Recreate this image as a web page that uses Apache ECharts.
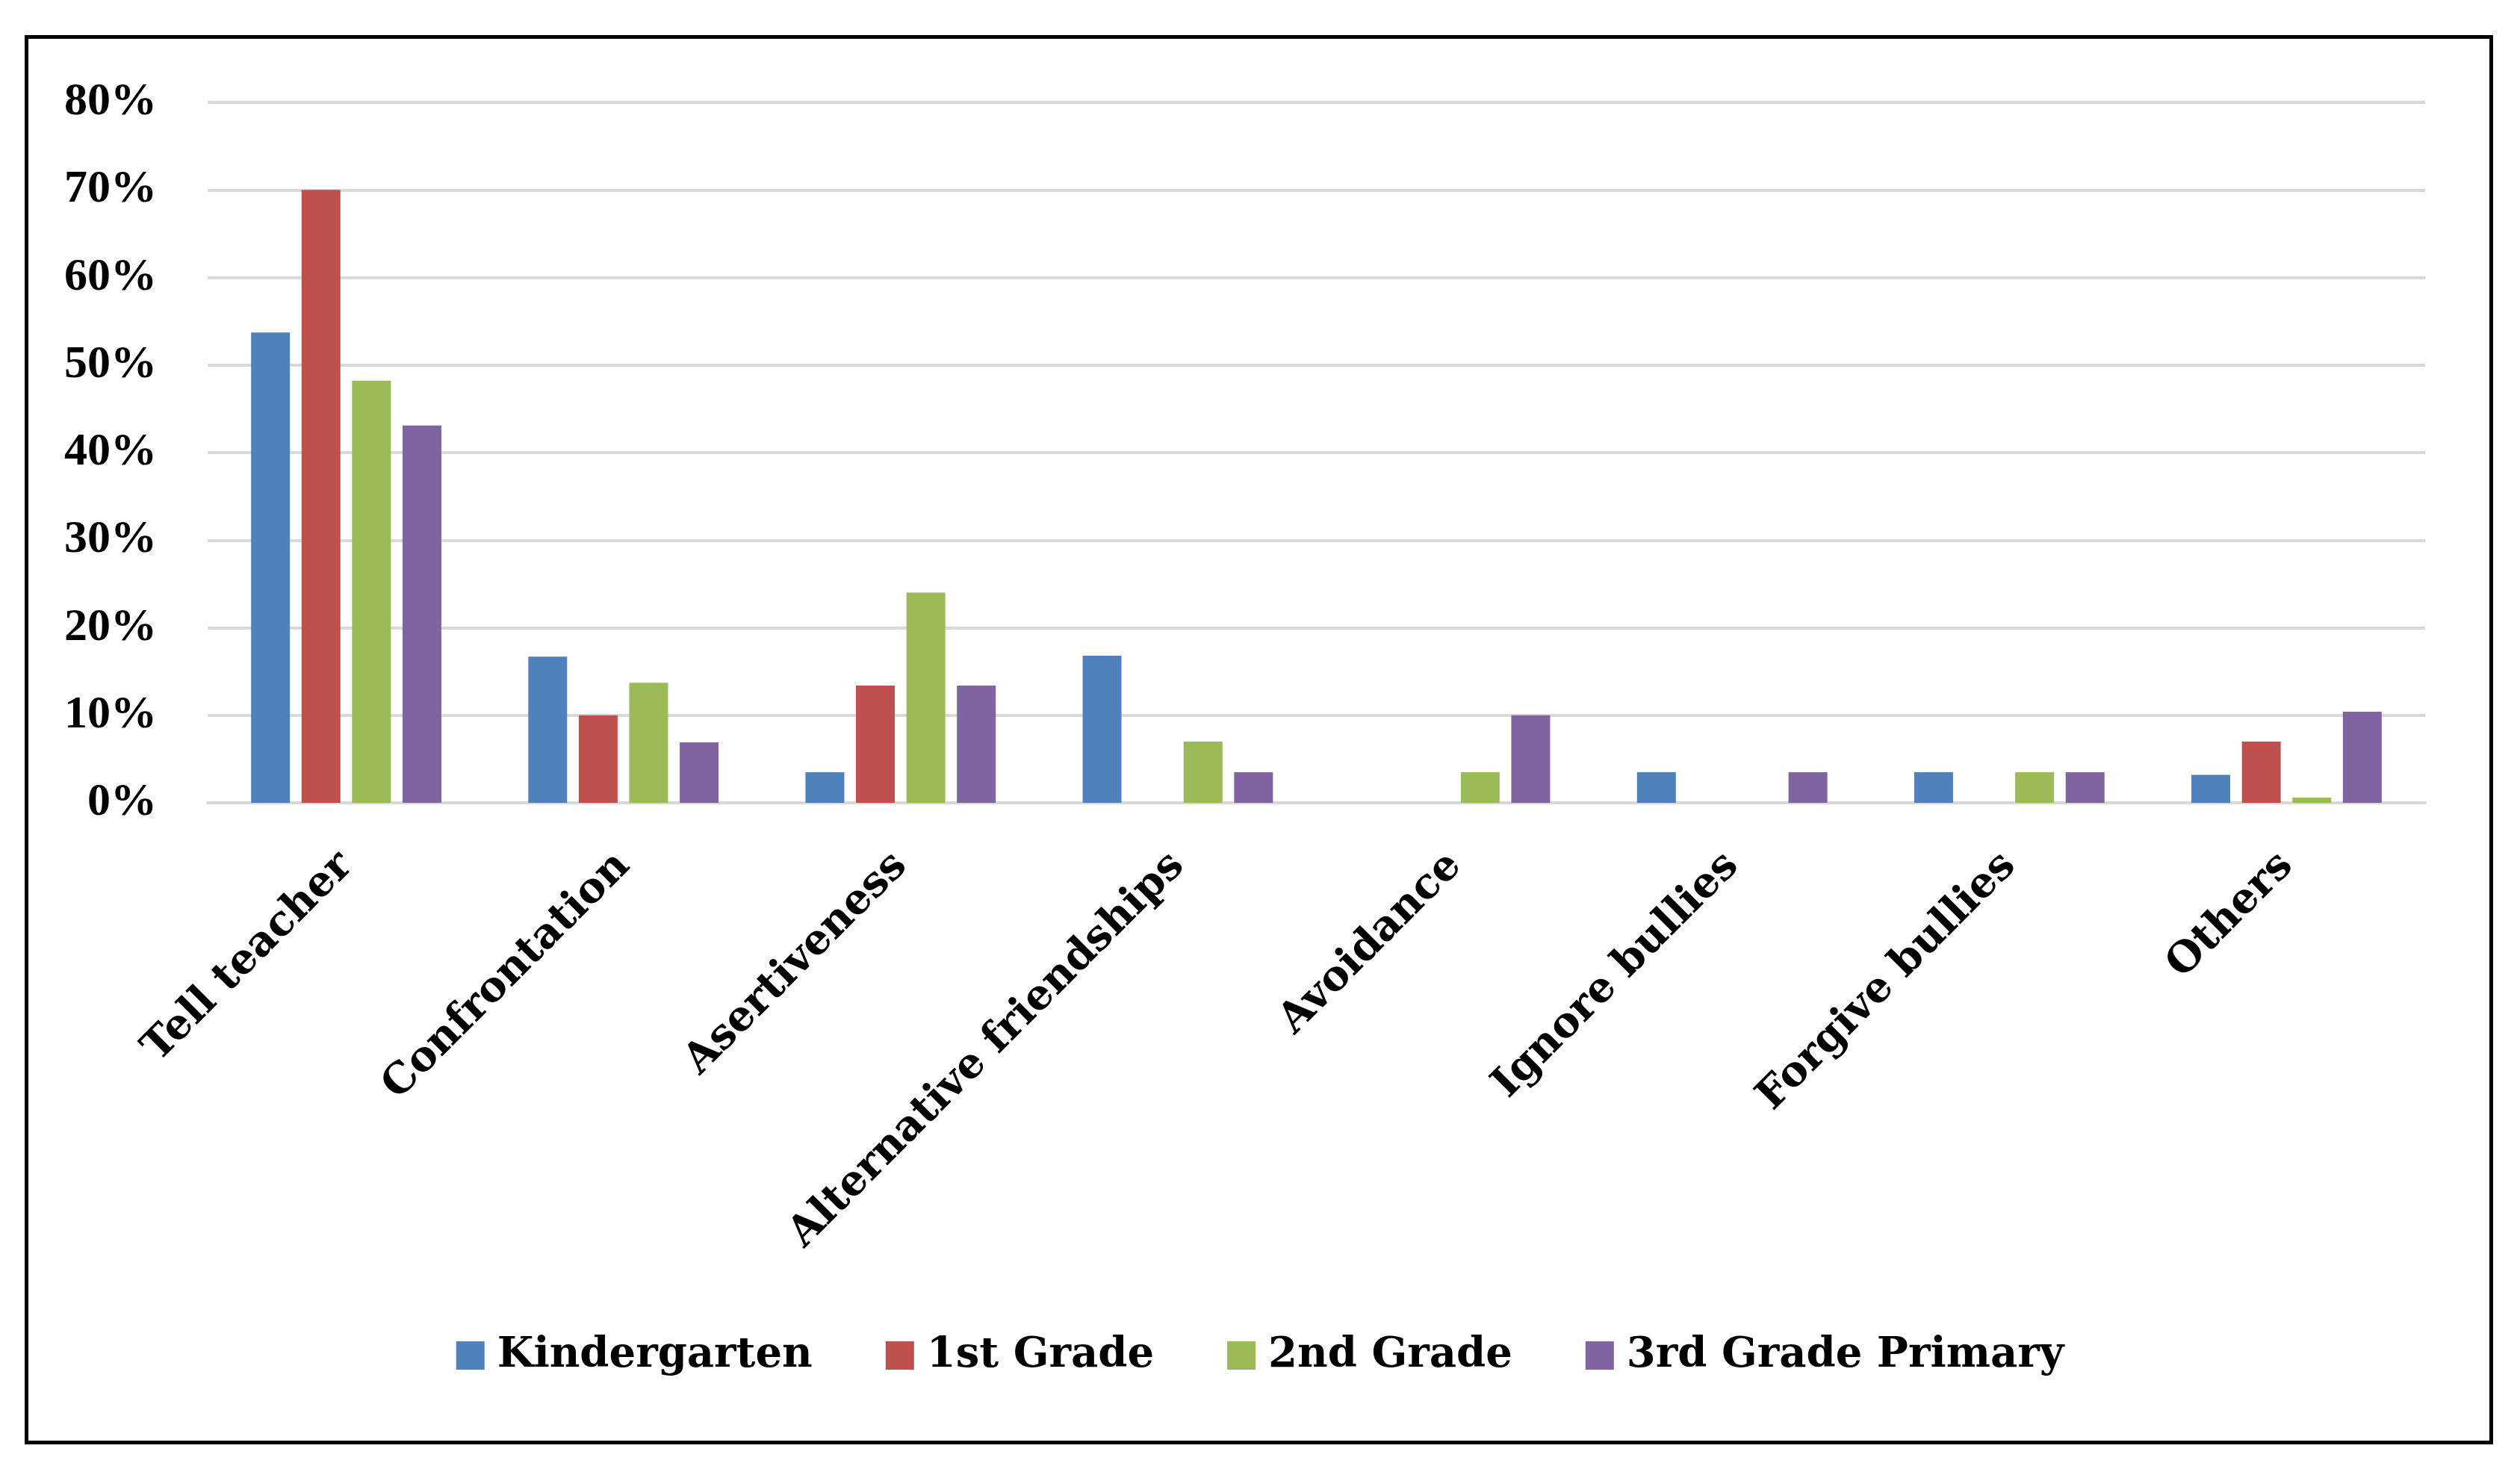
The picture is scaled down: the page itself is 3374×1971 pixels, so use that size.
<!DOCTYPE html>
<html>
<head>
<meta charset="utf-8">
<script src="https://cdn.jsdelivr.net/npm/echarts@6/dist/echarts.min.js"></script>
<style>
html,body{margin:0;padding:0;background:#fff;}
#chart{width:3374px;height:1971px;}
</style>
</head>
<body>
<div id="chart"></div>
<script>
const categories = ["Tell teacher","Confrontation","Asertiveness","Alternative friendships","Avoidance","Ignore bullies","Forgive bullies","Others"];
const seriesNames = ["Kindergarten","1st Grade","2nd Grade","3rd Grade Primary"];
const kindergarten = [53.7, 16.7, 3.5, 16.8, 0, 3.5, 3.5, 3.2];
const grade1 = [70.0, 10.0, 13.4, 0, 0, 0, 0, 7.0];
const grade2 = [48.2, 13.7, 24.0, 7.0, 3.5, 0, 3.5, 0.6];
const grade3 = [43.1, 6.9, 13.4, 3.5, 10.0, 3.5, 3.5, 10.4];
const colors = ["#4F81BD","#C0504D","#9BBB59","#8064A2"];
const yTicks = {min: 0, max: 80, interval: 10};

const yFont = '"Liberation Serif", serif';
const wideFont = '"DejaVu Serif", serif';
const chart = echarts.init(document.getElementById('chart'));
const allData = [kindergarten, grade1, grade2, grade3];
chart.setOption({
  animation: false,
  backgroundColor: '#ffffff',
  color: colors,
  graphic: [{
    type: 'rect',
    left: 33, top: 47,
    shape: {width: 3300, height: 1882},
    style: {fill: 'none', stroke: '#000', lineWidth: 5},
    silent: true
  }],
  grid: {left: 278, right: 127, top: 137, bottom: 896, containLabel: false},
  legend: {
    data: seriesNames,
    top: 1782,
    left: 'center',
    itemWidth: 38,
    itemHeight: 38,
    itemGap: 98,
    icon: 'rect',
    textStyle: {fontFamily: wideFont, fontSize: 56, fontWeight: 'bold', color: '#000', padding: [0,0,0,12]}
  },
  xAxis: {
    type: 'category',
    data: categories,
    axisLine: {show: true, lineStyle: {color: '#d9d9d9', width: 4}},
    axisTick: {show: false},
    axisLabel: {
      rotate: 45,
      interval: 0,
      margin: 76,
      fontFamily: wideFont,
      fontSize: 56,
      fontWeight: 'bold',
      color: '#000'
    }
  },
  yAxis: {
    type: 'value',
    min: yTicks.min,
    max: yTicks.max,
    interval: yTicks.interval,
    axisLine: {show: false},
    axisTick: {show: false},
    splitLine: {lineStyle: {color: '#d9d9d9', width: 4}},
    axisLabel: {
      formatter: '{value}%',
      margin: 68,
      fontFamily: yFont,
      fontSize: 62,
      fontWeight: 'bold',
      color: '#000'
    }
  },
  series: seriesNames.map((name, i) => ({
    name: name,
    type: 'bar',
    data: allData[i],
    barWidth: 52,
    barGap: '30%',
    itemStyle: {color: colors[i]}
  }))
});
</script>
</body>
</html>
